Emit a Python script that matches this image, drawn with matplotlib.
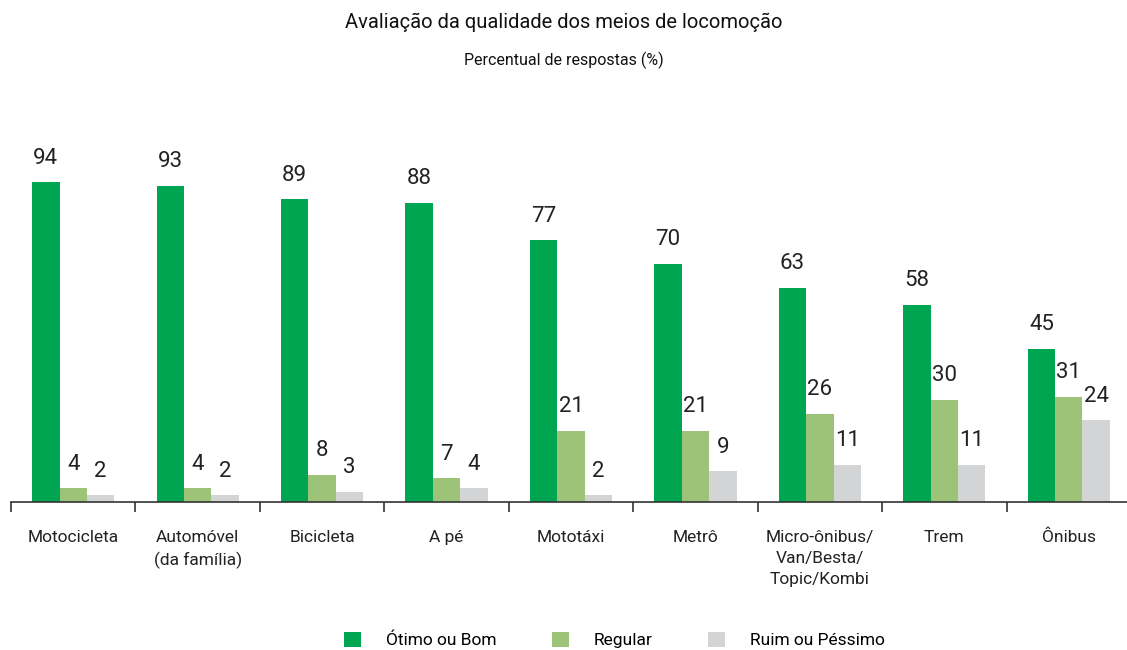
import numpy as np
import matplotlib
matplotlib.use("Agg")
import matplotlib.pyplot as plt
from matplotlib.patches import Patch

plt.rcParams['font.family'] = ['Liberation Sans Narrow', 'Roboto', 'DejaVu Sans']

# ========= DATA =========
categories = ["Motocicleta", "Automóvel\n(da família)", "Bicicleta", "A pé", "Mototáxi",
              "Metrô", "Micro-ônibus/\nVan/Besta/\nTopic/Kombi", "Trem", "Ônibus"]
otimo_bom = [94, 93, 89, 88, 77, 70, 63, 58, 45]
regular = [4, 4, 8, 7, 21, 21, 26, 30, 31]
ruim_pessimo = [2, 2, 3, 4, 2, 9, 11, 11, 24]
series_names = ["Ótimo ou Bom", "Regular", "Ruim ou Péssimo"]
colors = ["#00a551", "#9dc379", "#d3d4d6"]

# ========= PLOT =========
fig = plt.figure(figsize=(11.27, 6.5), dpi=100)
ax = fig.add_axes([11/1127, 148/650, 1120/1127, 340/650])

x = np.arange(len(categories))
w = 0.22
for i, (vals, col) in enumerate(zip([otimo_bom, regular, ruim_pessimo], colors)):
    pos = x + (i - 1) * w
    ax.bar(pos, vals, width=w, color=col, linewidth=0)
    for p, v in zip(pos, vals):
        ax.text(p, v + 4, str(v), ha="center", va="bottom", fontsize=16, color="#222222")

ax.set_xlim(-0.5, len(categories) - 0.5)
ax.set_ylim(0, 100)
ax.set_yticks([])
for s in ["top", "right", "left"]:
    ax.spines[s].set_visible(False)
ax.spines["bottom"].set_color("#333333")
ax.spines["bottom"].set_linewidth(1.2)

ax.set_xticks(x)
ax.set_xticklabels(categories, fontsize=12.5, color="#222222", linespacing=1.5, va="top")
ax.tick_params(axis="x", which="major", length=0, pad=20)
ax.set_xticks(np.arange(len(categories)) - 0.5, minor=True)
ax.tick_params(axis="x", which="minor", length=7, width=1.2, color="#333333", direction="out")

fig.text(0.5, 1 - 22/650, "Avaliação da qualidade dos meios de locomoção", ha="center", va="center",
         fontsize=14.5, color="#111111")
fig.text(0.5, 1 - 60/650, "Percentual de respostas (%)", ha="center", va="center",
         fontsize=11.5, color="#111111")

handles = [Patch(facecolor=c, edgecolor="none") for c in colors]
fig.legend(handles, series_names, loc="center", bbox_to_anchor=(0.545, 1 - 640/650), ncol=3,
           frameon=False, fontsize=12.5, handlelength=1.0, handleheight=1.0,
           handletextpad=1.4, columnspacing=3.2)

fig.savefig("out.png", dpi=100)
